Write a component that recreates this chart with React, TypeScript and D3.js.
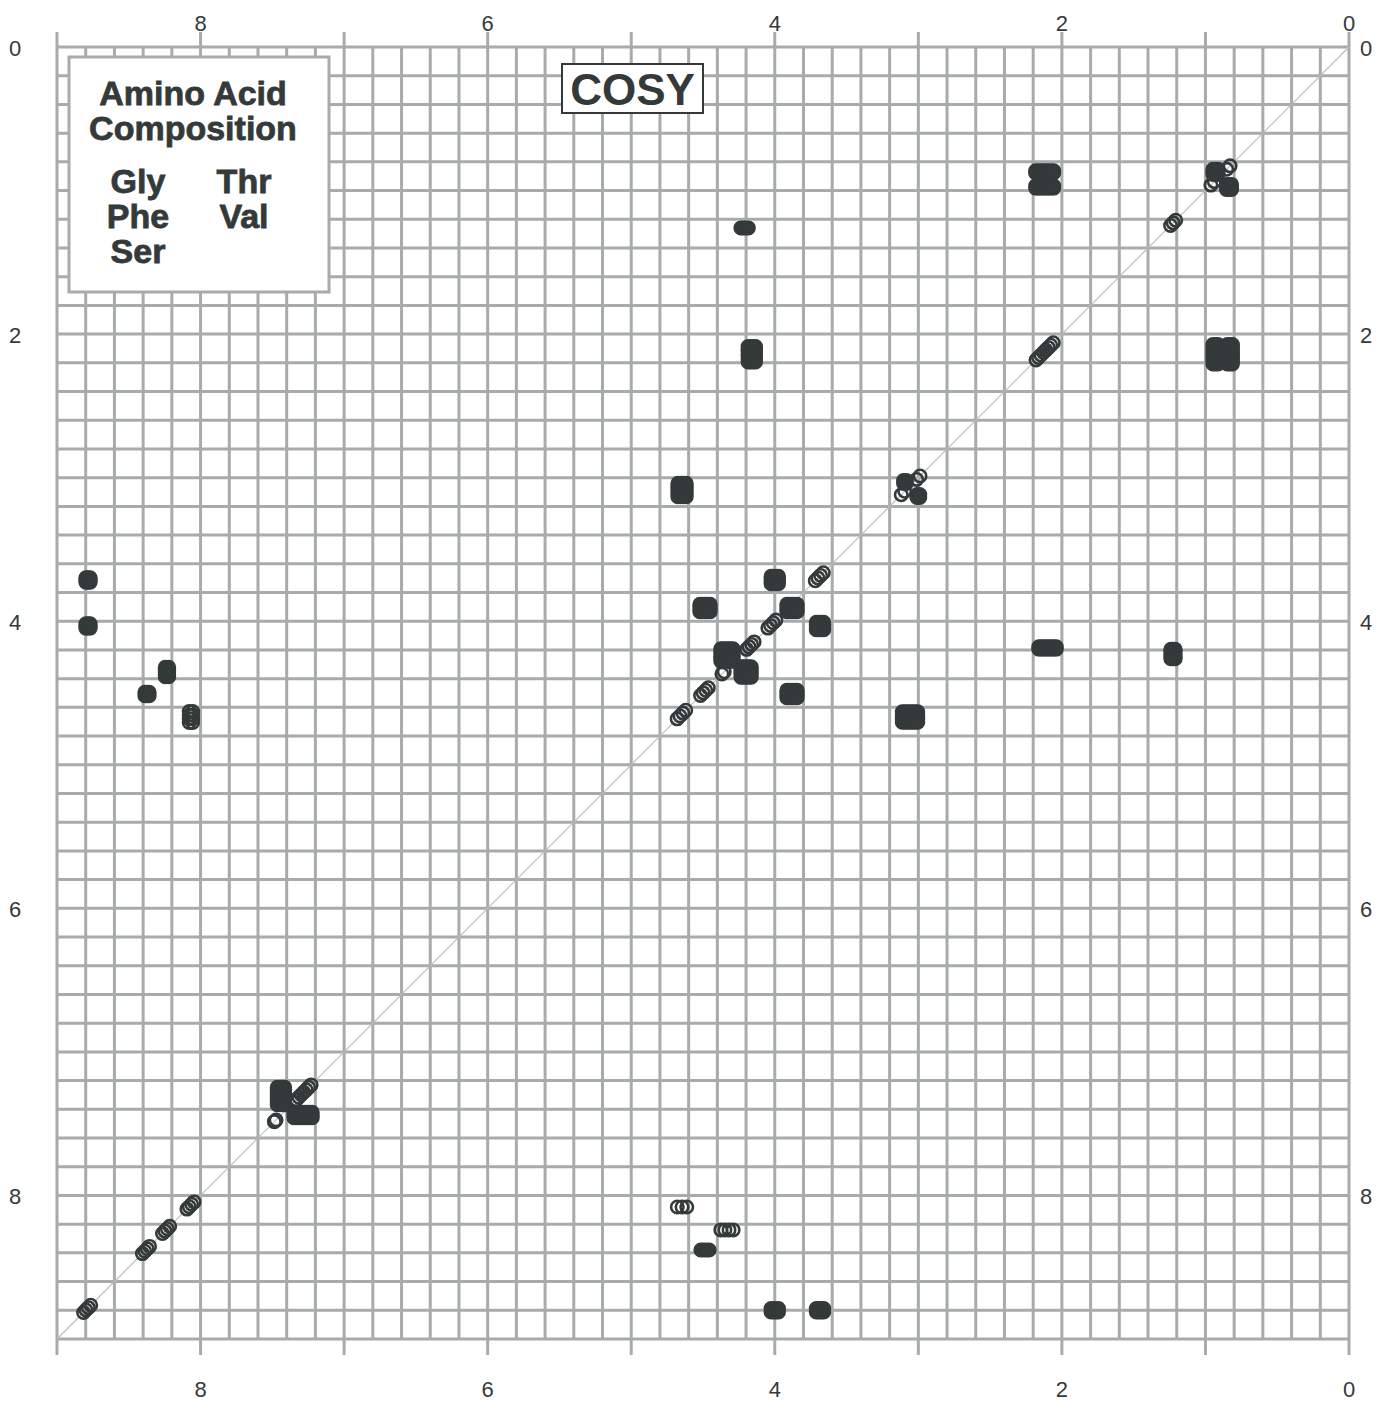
import * as d3 from "d3";
import { useEffect } from "react";

// chemical shift axes (ppm)
const xTicks = d3.range(0, 10, 1);
const xLabels = [0, 2, 4, 6, 8];
const yLabels = [0, 2, 4, 6, 8];
const gridSteps = d3.range(0, 46).map((i) => i / 5);

// cross peaks: F2 shift, F1 shift, half widths (ppm), kind: s = solid multiplet, o = open multiplet, d = diagonal
const peakX = [2.12, 2.12, 0.93, 0.836, 0.84, 0.95, 1.225, 2.12, 4.21, 4.16, 0.93, 0.83, 4.646, 3.093, 3.0, 3.0, 3.107,
  8.784, 8.784, 8.234, 8.373, 8.067,
  4.0, 3.69, 4.486, 3.88, 3.685, 4.02, 4.333, 4.2, 4.17, 4.36, 4.49, 4.65, 3.88, 3.058, 2.1, 1.226,
  7.44, 7.286, 7.29, 7.48,
  8.07, 8.24, 8.38, 8.79,
  4.646, 4.333, 4.486, 4.0, 3.685];
const peakY = [0.87, 0.975, 0.87, 0.975, 0.84, 0.95, 1.225, 2.12, 1.26, 2.14, 2.14, 2.14, 3.086, 3.03, 3.128, 3.0, 3.107,
  3.713, 4.033, 4.354, 4.507, 4.667,
  3.713, 3.69, 3.908, 3.908, 4.033, 4.02, 4.235, 4.354, 4.17, 4.36, 4.49, 4.65, 4.507, 4.667, 4.186, 4.228,
  7.307, 7.44, 7.29, 7.48,
  8.07, 8.24, 8.38, 8.79,
  8.08, 8.24, 8.38, 8.8, 8.8];
const halfX = [0.063, 0.063, 0.018, 0.018, 0.012, 0.012, 0.018, 0.06, 0.026, 0.026, 0.018, 0.018, 0.029, 0.01, 0.01, 0.012, 0.012,
  0.015, 0.015, 0.012, 0.015, 0.012,
  0.026, 0.028, 0.036, 0.036, 0.026, 0.028, 0.043, 0.036, 0.026, 0.008, 0.027, 0.03, 0.036, 0.054, 0.061, 0.015,
  0.026, 0.064, 0.06, 0.006,
  0.025, 0.025, 0.025, 0.025,
  0.033, 0.043, 0.029, 0.026, 0.026];
const halfY = [0.008, 0.008, 0.018, 0.018, 0, 0, 0, 0, 0.002, 0.054, 0.068, 0.068, 0.047, 0.01, 0.01, 0, 0,
  0.015, 0.015, 0.033, 0.012, 0.038,
  0.026, 0, 0.026, 0.026, 0.026, 0, 0.043, 0.036, 0, 0, 0, 0, 0.026, 0.036, 0.008, 0.033,
  0.061, 0.019, 0, 0,
  0, 0, 0, 0,
  0, 0, 0.004, 0.012, 0.012];
const peakKind = ["s", "s", "s", "s", "d", "d", "d", "d", "s", "s", "s", "s", "s", "s", "s", "d", "d",
  "s", "s", "s", "s", "o",
  "s", "d", "s", "s", "s", "d", "s", "s", "d", "d", "d", "d", "s", "s", "s", "s",
  "s", "s", "d", "d",
  "d", "d", "d", "d",
  "o", "o", "s", "s", "s"];

const legendLeft = ["Gly", "Phe", "Ser"];
const legendRight = ["Thr", "Val"];

const W = 1377;
const H = 1405;
const grey = "#a8abab";
const ink = "#343a3a";
const font = "'Liberation Sans', Arial, Helvetica, sans-serif";
const ringR = 6.2;

const x = d3.scaleLinear().domain([9, 0]).range([57, 1349]);
const y = d3.scaleLinear().domain([0, 9]).range([47, 1339]);

function rings(i: number) {
  const out: [number, number, boolean][] = [];
  const cx = x(peakX[i]);
  const cy = y(peakY[i]);
  const hx = Math.abs(x(peakX[i] + halfX[i]) - cx);
  const hy = Math.abs(y(peakY[i] + halfY[i]) - cy);
  if (peakKind[i] === "d") {
    const n = Math.max(1, Math.round((2 * hx) / 2.5) + 1);
    for (let k = 0; k < n; k++) {
      const t = n === 1 ? 0 : -hx + (2 * hx * k) / (n - 1);
      out.push([cx - t, cy + t, false]);
    }
    return out;
  }
  const solid = peakKind[i] === "s";
  const step = solid ? 2.5 : 4;
  const nx = Math.max(1, Math.round((2 * hx) / step) + 1);
  const ny = Math.max(1, Math.round((2 * hy) / step) + 1);
  for (let a = 0; a < nx; a++) {
    for (let b = 0; b < ny; b++) {
      const px = nx === 1 ? cx : cx - hx + (2 * hx * a) / (nx - 1);
      const py = ny === 1 ? cy : cy - hy + (2 * hy * b) / (ny - 1);
      out.push([px, py, solid]);
    }
  }
  return out;
}

export default function App() {
  useEffect(() => {
    document.body.style.margin = "0";
  }, []);

  const [x0, x1] = x.range();
  const [y0, y1] = y.range();
  const allRings = peakX.flatMap((_, i) => rings(i));

  return (
    <svg width={W} height={H} style={{ display: "block", background: "#fff" }} fontFamily={font}>
      {/* grid */}
      {gridSteps.map((v) => (
        <line key={"v" + v} x1={x(v)} x2={x(v)} y1={y0} y2={y1} stroke={grey} strokeWidth={3} />
      ))}
      {gridSteps.map((v) => (
        <line key={"h" + v} x1={x0} x2={x1} y1={y(v)} y2={y(v)} stroke={grey} strokeWidth={3} />
      ))}
      {/* tick extensions top and bottom */}
      {xTicks.map((v) => (
        <g key={"t" + v}>
          <line x1={x(v)} x2={x(v)} y1={y0 - 15} y2={y0} stroke={grey} strokeWidth={3} />
          <line x1={x(v)} x2={x(v)} y1={y1} y2={y1 + 16} stroke={grey} strokeWidth={3} />
        </g>
      ))}
      {xLabels.map((v) => (
        <g key={"xl" + v} fontSize={22} fill={ink} textAnchor="middle">
          <text x={x(v)} y={31}>{v}</text>
          <text x={x(v)} y={1397}>{v}</text>
        </g>
      ))}
      {yLabels.map((v) => (
        <g key={"yl" + v} fontSize={22} fill={ink} textAnchor="middle">
          <text x={15} y={y(v) + 9}>{v}</text>
          <text x={1366} y={y(v) + 9}>{v}</text>
        </g>
      ))}
      {/* diagonal */}
      <line x1={x(9)} y1={y(9)} x2={x(0)} y2={y(0)} stroke="#bdbdbd" strokeWidth={1.2} />
      {/* peaks */}
      {allRings.map(([px, py, solid], k) => (
        <g key={k}>
          {solid && <circle cx={px} cy={py} r={ringR} fill={ink} />}
          <circle cx={px} cy={py} r={ringR} fill="none" stroke={ink} strokeWidth={2.6} />
        </g>
      ))}
      {/* legend */}
      <rect x={69} y={57} width={260} height={235} fill="#fff" stroke={grey} strokeWidth={3} />
      <g fontWeight="bold" fontSize={34} fill={ink} stroke={ink} strokeWidth={0.8} textAnchor="middle">
        <text x={193} y={105}>Amino Acid</text>
        <text x={193} y={140}>Composition</text>
        {legendLeft.map((s, i) => (
          <text key={s} x={138} y={193 + i * 35}>{s}</text>
        ))}
        {legendRight.map((s, i) => (
          <text key={s} x={244} y={193 + i * 35}>{s}</text>
        ))}
      </g>
      {/* title */}
      <rect x={562} y={64} width={141} height={49} fill="#fff" stroke={ink} strokeWidth={2} />
      <text x={632.5} y={105} textAnchor="middle" fontWeight="bold" fontSize={44} fill={ink}>COSY</text>
    </svg>
  );
}
